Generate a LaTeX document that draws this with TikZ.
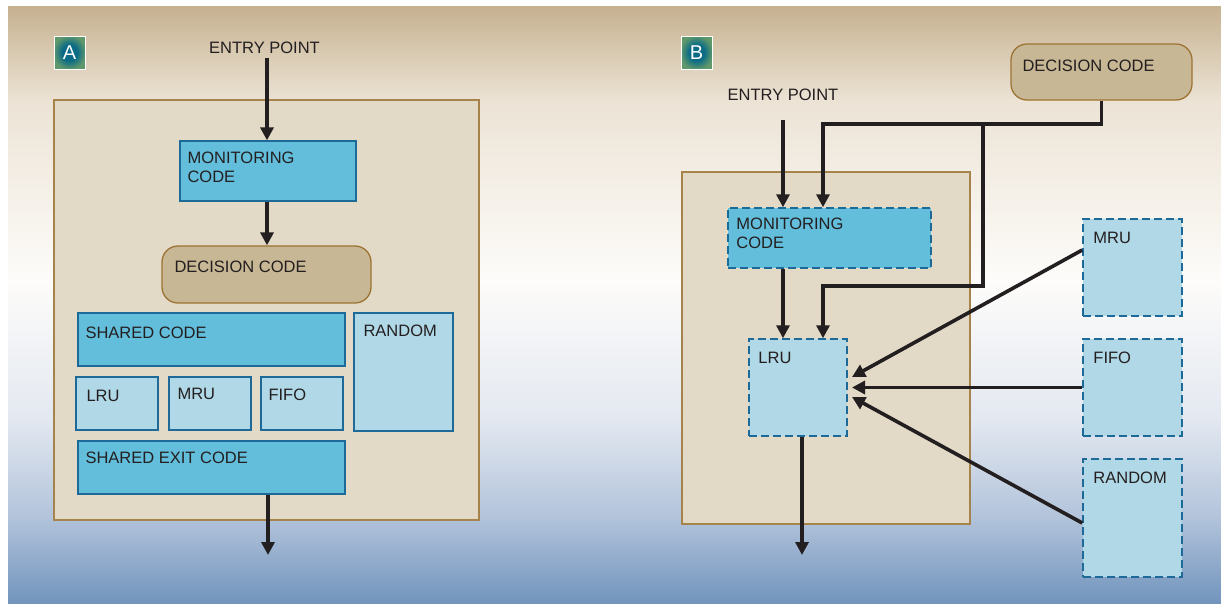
\documentclass[tikz,border=0pt]{standalone}
\usepackage{fontspec}
\setmainfont{Liberation Sans}
\usetikzlibrary{arrows.meta}
\definecolor{ink}{HTML}{231F20}
\definecolor{cyanF}{HTML}{63BEDC}
\definecolor{lightF}{HTML}{B1D8E6}
\definecolor{blueD}{HTML}{1D6A99}
\definecolor{decF}{HTML}{C8B794}
\definecolor{decD}{HTML}{9C7333}
\definecolor{outF}{HTML}{E2D9C7}
\definecolor{outD}{HTML}{A5834A}
\definecolor{bgA}{HTML}{C6B190}
\definecolor{bgB}{HTML}{ECE3D5}
\definecolor{bgC}{HTML}{FDFCFA}
\definecolor{bgD}{HTML}{E3E8F0}
\definecolor{bgE}{HTML}{B0C2DA}
\definecolor{bgF}{HTML}{7294BD}
\definecolor{badgeIn}{HTML}{0A6B86}
\definecolor{badgeOut}{HTML}{5E986B}
\pgfdeclareradialshading{badgesh}{\pgfpoint{0bp}{0bp}}{color(0bp)=(badgeIn); color(12bp)=(badgeIn); color(26bp)=(badgeOut); color(50bp)=(badgeOut)}
\begin{document}
\begin{tikzpicture}[x=1pt,y=-1pt,
  font=\fontsize{16.5}{19}\selectfont, text=ink,
  lab/.style={inner sep=0pt, align=left, font=\fontsize{16.5}{19}\selectfont, text=ink},
  ins/.style n args={3}{label={[lab,anchor=north west,xshift=#1pt,yshift=-#2pt]north west:{#3}}},
  sz/.style 2 args={minimum width=#1pt, minimum height=#2pt},
  outer/.style={draw=outD, fill=outF, line width=1.5pt, inner sep=0pt},
  solidbox/.style={draw=blueD, line width=1.3pt, inner sep=0pt},
  dbox/.style={draw=blueD, line width=1.5pt, dash pattern=on 8pt off 4pt, inner sep=0pt},
  decbox/.style={draw=decD, fill=decF, line width=1.3pt, rounded corners=16pt, inner sep=0pt},
  arr/.style={draw=ink, line width=3.6pt, -{Triangle[length=13pt,width=13pt]}},
  badge/.style={draw=white, line width=1pt, shading=badgesh,
    minimum width=31pt, minimum height=33pt, text=white, font=\fontsize{20}{20}\selectfont, inner sep=0pt},
  plain/.style={inner sep=0pt}
]
\useasboundingbox (0,0) rectangle (1221,603);
% background
\fill[top color=bgA,bottom color=bgB] (8,6) rectangle (1221,101);
\fill[top color=bgB,bottom color=bgC] (8,100) rectangle (1221,281);
\fill[top color=bgC,bottom color=bgD] (8,280) rectangle (1221,421);
\fill[top color=bgD,bottom color=bgE] (8,420) rectangle (1221,521);
\fill[top color=bgE,bottom color=bgF] (8,520) rectangle (1221,603);

% ---------- Panel A ----------
\node[badge] (bA) at (69.5,52.5) {A};
\node[plain] (entA) at (264.5,48) {ENTRY POINT};
\node[outer, sz={425}{420}] (outA) at (266.5,310) {};
\node[solidbox, fill=cyanF, sz={176}{60}, ins={8}{11}{MONITORING\\CODE}] (monA) at (268,171) {};
\node[decbox, sz={209}{57}, ins={13}{15}{DECISION CODE}] (decA) at (266.5,274.5) {};
\node[solidbox, fill=cyanF, sz={267}{53}, ins={8}{14}{SHARED CODE}] (sharedA) at (211.5,339.5) {};
\node[solidbox, fill=lightF, sz={99}{118}, ins={10}{12}{RANDOM}] (randA) at (403.5,372) {};
\node[solidbox, fill=lightF, sz={82}{53}, ins={11}{14}{LRU}] (lruA) at (117,403.5) {};
\node[solidbox, fill=lightF, sz={82}{53}, ins={9}{12}{MRU}] (mruA) at (210,403.5) {};
\node[solidbox, fill=lightF, sz={82}{53}, ins={8}{12}{FIFO}] (fifoA) at (302,403.5) {};
\node[solidbox, fill=cyanF, sz={267}{53}, ins={8}{11}{SHARED EXIT CODE}] (exitA) at (211.5,467.5) {};
\coordinate (eA) at (267,58);
\coordinate (xA) at (268,555);
\draw[arr] (eA) -- (eA |- monA.north);
\draw[arr] (eA |- monA.south) -- (eA |- decA.north);
\draw[arr] (xA |- exitA.south) -- (xA);

% ---------- Panel B ----------
\node[badge] (bB) at (696.5,52.5) {B};
\node[plain] (entB) at (783,95) {ENTRY POINT};
\node[outer, sz={288}{352}] (outB) at (826,348) {};
\node[decbox, sz={181}{56}, ins={12}{16}{DECISION CODE}] (decB) at (1101.5,72) {};
\node[dbox, fill=cyanF, sz={203}{60}, ins={9}{11}{MONITORING\\CODE}] (monB) at (829.5,238) {};
\node[dbox, fill=lightF, sz={98}{97}, ins={10}{14}{LRU}] (lruB) at (798,387.5) {};
\node[dbox, fill=lightF, sz={99}{97}, ins={11}{14}{MRU}] (mruB) at (1132.5,267.5) {};
\node[dbox, fill=lightF, sz={99}{97}, ins={11}{14}{FIFO}] (fifoB) at (1132.5,387.5) {};
\node[dbox, fill=lightF, sz={99}{118}, ins={11}{14}{RANDOM}] (randB) at (1132.5,518) {};
\coordinate (eB) at (783,120);
\coordinate (c1) at (823,124);
\coordinate (j1) at (983,124);
\coordinate (c2) at (823,286);
\coordinate (xB) at (802,555);
\coordinate (tM) at (852,377);
\coordinate (tF) at (852,387.5);
\coordinate (tR) at (852,397);
\draw[arr] (eB) -- (eB |- monB.north);
\draw[arr] (decB.south) |- (c1) -- (c1 |- monB.north);
\draw[arr] (j1) |- (c2) -- (c2 |- lruB.north);
\draw[arr] (eB |- monB.south) -- (eB |- lruB.north);
\draw[arr] (xB |- lruB.south) -- (xB);
\draw[arr] (mruB.west |- 0,250) -- (tM);
\draw[arr] (fifoB.west) -- (tF);
\draw[arr] (randB.west |- 0,523) -- (tR);
\end{tikzpicture}
\end{document}
